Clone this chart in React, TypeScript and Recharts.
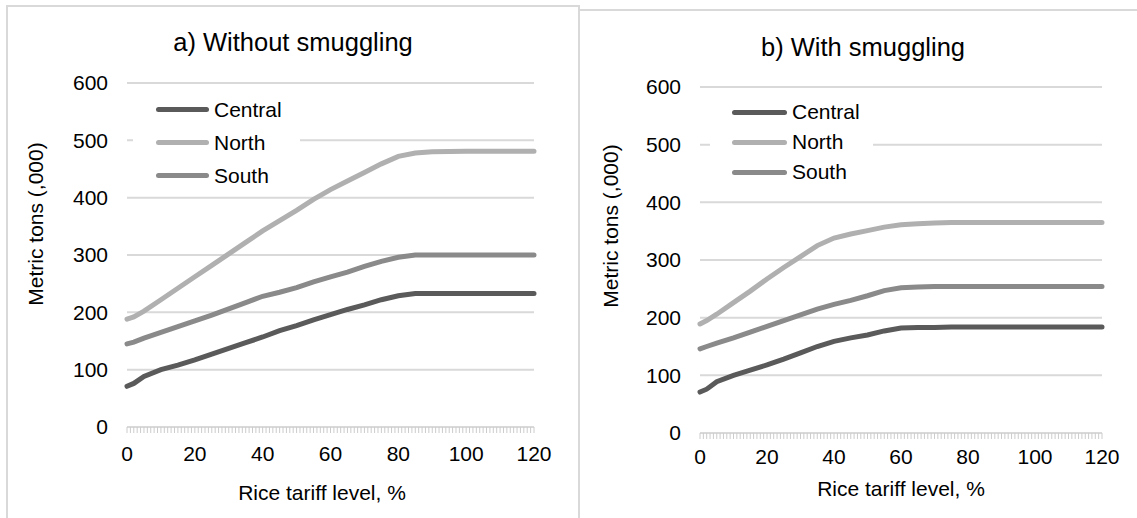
import React from "react";
import {
  LineChart,
  Line,
  XAxis,
  YAxis,
  CartesianGrid,
  Legend,
} from "recharts";

// rice tariff level, %
const tariff = [0, 2, 5, 10, 15, 20, 25, 30, 35, 40, 45, 50, 55, 60, 65, 70, 75, 80, 85, 90, 100, 110, 120];

// a) without smuggling, metric tons (,000)
const centralA = [71, 76, 88, 100, 108, 117, 127, 137, 147, 157, 168, 177, 187, 196, 205, 213, 222, 229, 233, 233, 233, 233, 233];
const northA = [188, 192, 202, 222, 242, 262, 282, 302, 322, 342, 360, 378, 397, 414, 429, 444, 459, 472, 478, 480, 481, 481, 481];
const southA = [145, 148, 155, 165, 175, 185, 195, 206, 217, 228, 235, 243, 253, 262, 270, 280, 289, 296, 300, 300, 300, 300, 300];

// b) with smuggling
const centralB = [71, 76, 89, 100, 109, 118, 128, 139, 150, 159, 165, 170, 177, 182, 183, 183, 184, 184, 184, 184, 184, 184, 184];
const northB = [189, 195, 206, 226, 246, 267, 287, 306, 325, 338, 345, 351, 357, 361, 363, 364, 365, 365, 365, 365, 365, 365, 365];
const southB = [146, 150, 156, 165, 175, 185, 195, 205, 215, 223, 230, 238, 247, 252, 253, 254, 254, 254, 254, 254, 254, 254, 254];

const yTicks = [0, 100, 200, 300, 400, 500, 600];
const xLabels = [0, 20, 40, 60, 80, 100, 120];
const xMinorTicks = Array.from({ length: 121 }, (_, i) => i);

const seriesNames = ["Central", "North", "South"];
const seriesColors = ["#5a5a5a", "#b0b0b0", "#8a8a8a"];

const FONT = "'Liberation Sans', Arial, sans-serif";

function buildRows(central: number[], north: number[], south: number[]) {
  return tariff.map((t, i) => ({
    x: t,
    Central: central[i],
    North: north[i],
    South: south[i],
  }));
}

const dataA = buildRows(centralA, northA, southA);
const dataB = buildRows(centralB, northB, southB);

interface PanelProps {
  data: { x: number }[];
  left: number;
  width: number;
  top: number;
  right: number;
  plotLeft: number;
  xAxisHeight: number;
  xTickMargin: number;
  legend: { left: number; top: number; width: number; pad: number; line: number; row: number };
}

function Panel({ data, left, width, top, right, plotLeft, xAxisHeight, xTickMargin, legend }: PanelProps) {
  const renderLegend = (props: any) => {
    const items = props.payload || [];
    return (
      <div style={{ background: "#fff", paddingTop: 1 }}>
        {items.map((entry: any, i: number) => (
          <div key={i} style={{ display: "flex", alignItems: "center", height: legend.row }}>
            <span
              style={{
                display: "inline-block",
                marginLeft: legend.pad,
                width: legend.line,
                height: 5,
                borderRadius: 3,
                background: entry.color,
              }}
            />
            <span style={{ marginLeft: 5, fontSize: 21, color: "#000", fontFamily: FONT }}>{entry.value}</span>
          </div>
        ))}
      </div>
    );
  };

  return (
    <div style={{ position: "absolute", left, top: 0 }}>
      <LineChart width={width} height={518} data={data} margin={{ top, right, bottom: 0, left: 0 }}>
        <CartesianGrid vertical={false} stroke="#d9d9d9" strokeWidth={2} />
        <XAxis
          dataKey="x"
          type="number"
          domain={[0, 120]}
          ticks={xMinorTicks}
          interval={0}
          height={xAxisHeight}
          tickSize={6}
          tickMargin={xTickMargin}
          axisLine={{ stroke: "#d9d9d9" }}
          tickLine={{ stroke: "#cccccc" }}
          tickFormatter={(v: number) => (xLabels.includes(v) ? String(v) : "")}
          tick={{ fill: "#000", fontSize: 21, fontFamily: FONT }}
        />
        <YAxis
          type="number"
          domain={[0, 600]}
          ticks={yTicks}
          width={plotLeft}
          axisLine={false}
          tickLine={false}
          tickSize={0}
          tickMargin={19}
          tick={{ fill: "#000", fontSize: 21, fontFamily: FONT }}
        />
        <Legend
          layout="vertical"
          align="center"
          verticalAlign="middle"
          content={renderLegend}
          wrapperStyle={{ left: legend.left, top: legend.top, width: legend.width, height: "auto" }}
        />
        {seriesNames.map((name, i) => (
          <Line
            key={name}
            type="linear"
            dataKey={name}
            stroke={seriesColors[i]}
            strokeWidth={5}
            strokeLinecap="round"
            dot={false}
            isAnimationActive={false}
          />
        ))}
      </LineChart>
    </div>
  );
}

const textStyle: React.CSSProperties = {
  position: "absolute",
  fontFamily: FONT,
  color: "#000",
  whiteSpace: "nowrap",
  transform: "translate(-50%, -50%)",
};

export default function App() {
  return (
    <div
      style={{
        position: "absolute",
        left: 0,
        top: 0,
        width: 1137,
        height: 518,
        overflow: "hidden",
        background: "#fff",
        fontFamily: FONT,
      }}
    >
      {/* panel frames */}
      <div
        style={{
          position: "absolute",
          left: 6,
          top: 5,
          width: 574,
          height: 530,
          border: "2px solid #d9d9d9",
          boxSizing: "border-box",
        }}
      />
      <div
        style={{
          position: "absolute",
          left: 578,
          top: 9,
          width: 600,
          height: 530,
          borderTop: "2px solid #d9d9d9",
          borderLeft: "2px solid #d9d9d9",
          boxSizing: "border-box",
        }}
      />

      <Panel
        data={dataA}
        left={0}
        width={579}
        top={83}
        right={45}
        plotLeft={127}
        xAxisHeight={91}
        xTickMargin={13}
        legend={{ left: 133, top: 92, width: 167, pad: 23, line: 53, row: 33 }}
      />
      <Panel
        data={dataB}
        left={579}
        width={558}
        top={87}
        right={35}
        plotLeft={121}
        xAxisHeight={85}
        xTickMargin={10}
        legend={{ left: 131, top: 96, width: 163, pad: 22, line: 55, row: 30 }}
      />

      <div style={{ ...textStyle, left: 293, top: 42, fontSize: 25.5 }}>a) Without smuggling</div>
      <div style={{ ...textStyle, left: 863, top: 47, fontSize: 25.5 }}>b) With smuggling</div>

      <div style={{ ...textStyle, left: 36, top: 224, fontSize: 21, transform: "translate(-50%, -50%) rotate(-90deg)" }}>
        Metric tons (,000)
      </div>
      <div style={{ ...textStyle, left: 611, top: 226, fontSize: 21, transform: "translate(-50%, -50%) rotate(-90deg)" }}>
        Metric tons (,000)
      </div>

      <div style={{ ...textStyle, left: 322, top: 493, fontSize: 21 }}>Rice tariff level, %</div>
      <div style={{ ...textStyle, left: 901, top: 489, fontSize: 21 }}>Rice tariff level, %</div>
    </div>
  );
}
